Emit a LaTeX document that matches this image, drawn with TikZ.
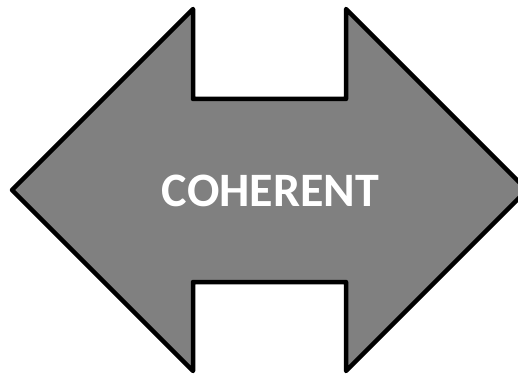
\documentclass[tikz,border=0pt]{standalone}
\usepackage{fontspec}
\setmainfont{Carlito}
\begin{document}
\begin{tikzpicture}[x=1pt,y=-1pt,
  arrowshape/.style={draw=black,fill=gray,line width=4.5pt,line join=round},
  bigtext/.style={text=white,font=\bfseries\fontsize{48}{58}\selectfont,inner sep=0pt}]
\useasboundingbox (0,0) rectangle (518,374);
\clip (0,0) rectangle (518,374);
% double arrow, right tip runs off the page
\draw[arrowshape] (12,190) -- (193,9) -- (193,99) -- (346,99) -- (346,9) -- (527,190)
  -- (346,371) -- (346,282) -- (193,282) -- (193,371) -- cycle;
\node[bigtext] (word) at (270.5,190.5) {COHERENT};
\end{tikzpicture}
\end{document}
